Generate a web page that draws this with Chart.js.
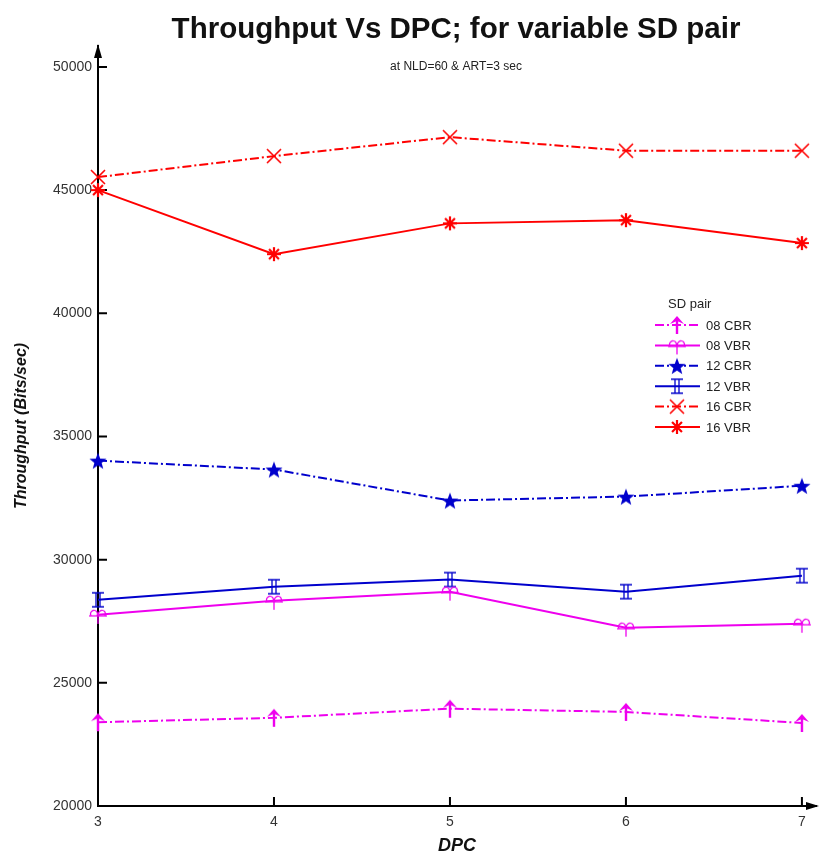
<!DOCTYPE html>
<html><head><meta charset="utf-8">
<script src="https://cdn.jsdelivr.net/npm/chart.js@4"></script>
<style>html,body{margin:0;padding:0;background:#fff}</style>
</head><body>
<canvas id="c" width="826" height="859"></canvas>
<script>
const dpc = [3, 4, 5, 6, 7];
const seriesLabels = ['08 CBR', '08 VBR', '12 CBR', '12 VBR', '16 CBR', '16 VBR'];
const cbr08 = [23400, 23580, 23950, 23820, 23370];
const vbr08 = [27760, 28330, 28700, 27240, 27400];
const cbr12 = [34020, 33660, 32400, 32560, 33000];
const vbr12 = [28370, 28900, 29190, 28700, 29350];
const cbr16 = [45530, 46380, 47150, 46600, 46600];
const vbr16 = [45000, 42400, 43650, 43780, 42850];
const yTicks = [20000, 25000, 30000, 35000, 40000, 45000, 50000];
const xTicks = [3, 4, 5, 6, 7];
const titleText = 'Throughput Vs DPC; for variable SD pair';
const subtitleText = 'at NLD=60 & ART=3 sec';
const legendTitle = 'SD pair';

const MAG = '#ee00ee', BLU = '#0000cc', RED = '#ff0000';
const FONT = '"Liberation Sans", Arial, sans-serif';

function mk(size, draw) {
  const c = document.createElement('canvas');
  c.width = size; c.height = size;
  const g = c.getContext('2d');
  draw(g, size / 2);
  return c;
}
const mArrow = mk(22, (g, c) => {
  g.strokeStyle = MAG; g.fillStyle = MAG; g.lineWidth = 2.4;
  g.beginPath(); g.moveTo(c, c + 9); g.lineTo(c, c - 6); g.stroke();
  g.beginPath(); g.moveTo(c, c - 9); g.lineTo(c - 7, c - 1); g.lineTo(c, c - 4); g.lineTo(c + 7, c - 1); g.closePath(); g.fill();
});
const mOmega = mk(22, (g, c) => {
  g.strokeStyle = MAG; g.lineWidth = 1.3;
  g.beginPath(); g.moveTo(c - 9, c + 1); g.lineTo(c + 9, c + 1); g.stroke();
  g.beginPath(); g.arc(c - 4, c - 1, 3.5, Math.PI * 0.8, Math.PI * 2.2); g.stroke();
  g.beginPath(); g.arc(c + 4, c - 1, 3.5, Math.PI * 0.8, Math.PI * 2.2); g.stroke();
  g.beginPath(); g.moveTo(c, c + 1); g.lineTo(c, c + 9); g.stroke();
});
const mStar = mk(22, (g, c) => {
  g.fillStyle = BLU;
  g.beginPath();
  for (let i = 0; i < 10; i++) {
    const r = i % 2 === 0 ? 9 : 3.8;
    const a = -Math.PI / 2 + i * Math.PI / 5;
    const x = c + r * Math.cos(a), y = c + 1 + r * Math.sin(a);
    i === 0 ? g.moveTo(x, y) : g.lineTo(x, y);
  }
  g.closePath(); g.fill();
});
const mBeam = mk(20, (g, c) => {
  g.strokeStyle = BLU; g.lineWidth = 1.3;
  g.beginPath();
  g.moveTo(c - 6, c - 7); g.lineTo(c + 6, c - 7);
  g.moveTo(c - 6, c + 7); g.lineTo(c + 6, c + 7);
  g.moveTo(c - 2, c - 7); g.lineTo(c - 2, c + 7);
  g.moveTo(c + 2, c - 7); g.lineTo(c + 2, c + 7);
  g.stroke();
});
const mX = mk(22, (g, c) => {
  g.strokeStyle = RED; g.lineWidth = 1.6;
  g.beginPath();
  g.moveTo(c - 7, c - 7); g.lineTo(c + 7, c + 7);
  g.moveTo(c + 7, c - 7); g.lineTo(c - 7, c + 7);
  g.stroke();
});
const mAst = mk(22, (g, c) => {
  g.strokeStyle = RED; g.lineWidth = 2.2;
  g.beginPath();
  for (let i = 0; i < 4; i++) {
    const a = i * Math.PI / 4;
    g.moveTo(c + 7 * Math.cos(a), c + 7 * Math.sin(a));
    g.lineTo(c - 7 * Math.cos(a), c - 7 * Math.sin(a));
  }
  g.stroke();
});

const DASH = [9, 3, 2, 3];
function ds(label, vals, color, marker, dashed) {
  return {
    label, data: dpc.map((x, i) => ({ x, y: vals[i] })),
    borderColor: color, backgroundColor: color, borderWidth: 2,
    borderDash: dashed ? DASH : [], pointStyle: marker, pointRadius: 8,
    tension: 0, clip: false
  };
}
const datasets = [
  ds(seriesLabels[0], cbr08, MAG, mArrow, true),
  ds(seriesLabels[1], vbr08, MAG, mOmega, false),
  ds(seriesLabels[2], cbr12, BLU, mStar, true),
  ds(seriesLabels[3], vbr12, BLU, mBeam, false),
  ds(seriesLabels[4], cbr16, RED, mX, true),
  ds(seriesLabels[5], vbr16, RED, mAst, false)
];

const deco = {
  id: 'deco',
  beforeDatasetsDraw(chart) {
    const g = chart.ctx, xs = chart.scales.x, ys = chart.scales.y, a = chart.chartArea;
    g.save();
    g.strokeStyle = '#000'; g.lineWidth = 2;
    g.beginPath();
    yTicks.forEach(v => { const y = ys.getPixelForValue(v); g.moveTo(a.left, y); g.lineTo(a.left + 9, y); });
    xTicks.slice(1).forEach(v => { const x = xs.getPixelForValue(v); g.moveTo(x, a.bottom); g.lineTo(x, a.bottom - 9); });
    g.stroke();
    g.fillStyle = '#000';
    g.beginPath(); g.moveTo(a.left, a.top - 2); g.lineTo(a.left - 4, a.top + 12); g.lineTo(a.left + 4, a.top + 12); g.closePath(); g.fill();
    g.beginPath(); g.moveTo(a.right + 3, a.bottom); g.lineTo(a.right - 10, a.bottom - 4); g.lineTo(a.right - 10, a.bottom + 4); g.closePath(); g.fill();
    g.restore();
  },
  afterDraw(chart) {
    const g = chart.ctx;
    g.save();
    g.fillStyle = '#111'; g.textAlign = 'center'; g.textBaseline = 'middle';
    g.font = 'bold 29.5px ' + FONT;
    g.fillText(titleText, 456, 30);
    g.font = '12px ' + FONT;
    g.fillStyle = '#222';
    g.fillText(subtitleText, 456, 67);
    g.font = '13px ' + FONT;
    g.fillStyle = '#222';
    g.textAlign = 'left';
    g.fillText(legendTitle, 668, 304);
    chart.data.datasets.forEach((d, i) => {
      const y = 325 + i * 20.4;
      g.strokeStyle = d.borderColor; g.lineWidth = 2;
      g.setLineDash(d.borderDash);
      g.beginPath(); g.moveTo(655, y); g.lineTo(700, y); g.stroke();
      g.setLineDash([]);
      const img = d.pointStyle;
      g.drawImage(img, 677 - img.width / 2, y - img.height / 2);
      g.fillStyle = '#222';
      g.fillText(d.label, 706, y + 1);
    });
    g.restore();
  }
};

new Chart(document.getElementById('c'), {
  type: 'line',
  data: { datasets },
  options: {
    responsive: false, animation: false, devicePixelRatio: 1,
    layout: { padding: { top: 46, right: 5, left: 0, bottom: 0 } },
    plugins: { legend: { display: false }, tooltip: { enabled: false }, title: { display: false } },
    scales: {
      x: {
        type: 'linear', min: 3, max: 7.08,
        afterBuildTicks: s => { s.ticks = xTicks.map(v => ({ value: v })); },
        grid: { display: false, drawTicks: false },
        border: { display: true, color: '#000', width: 2 },
        ticks: { padding: 8, color: '#333', font: { size: 14, family: FONT }, callback: v => String(v) },
        title: { display: true, text: 'DPC', color: '#111', font: { size: 18, weight: 'bold', style: 'italic', family: FONT }, padding: { top: 0, bottom: 2 } },
        afterFit: s => { s.height = 53; }
      },
      y: {
        type: 'linear', min: 20000, max: 50850,
        afterBuildTicks: s => { s.ticks = yTicks.map(v => ({ value: v })); },
        grid: { display: false, drawTicks: false },
        border: { display: true, color: '#000', width: 2 },
        ticks: { padding: 6, color: '#333', font: { size: 14, family: FONT }, callback: v => String(v) },
        title: { display: true, text: 'Throughput (Bits/sec)', color: '#111', font: { size: 16, weight: 'bold', style: 'italic', family: FONT }, padding: { top: 12, bottom: 0 } },
        afterFit: s => { s.width = 98; }
      }
    }
  },
  plugins: [deco]
});
</script>
</body></html>
